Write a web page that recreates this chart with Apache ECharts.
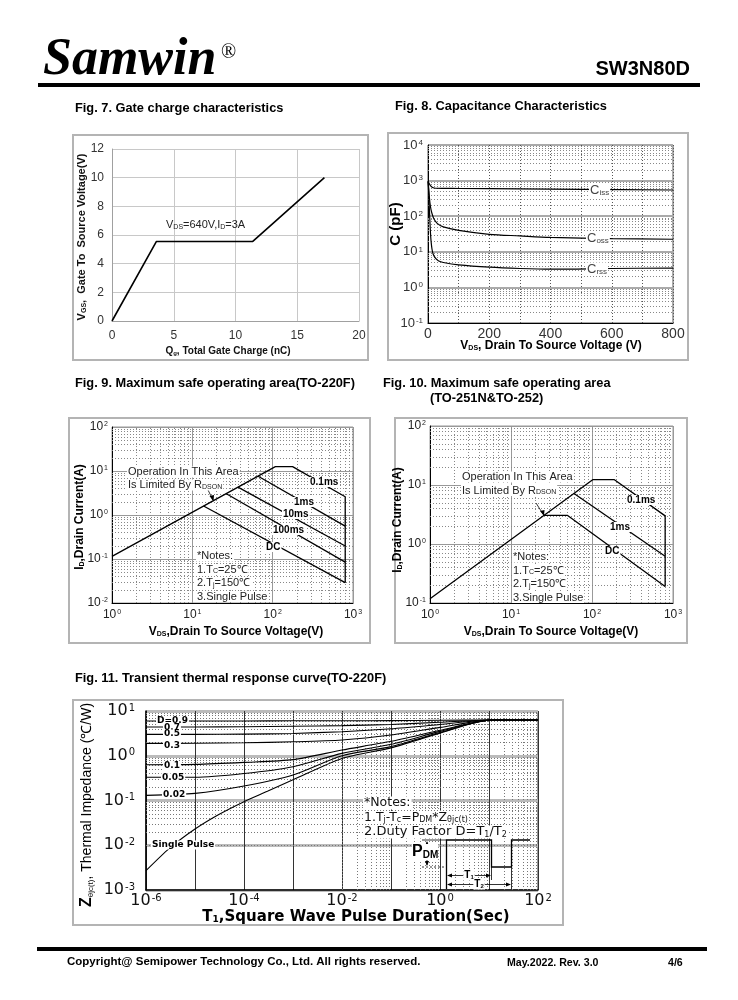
<!DOCTYPE html>
<html><head><meta charset="utf-8">
<script src="https://cdn.jsdelivr.net/npm/echarts@6/dist/echarts.min.js"></script>
<style>html,body{margin:0;padding:0;background:#fff}#c{width:738px;height:1000px}</style>
</head><body><div id="c"></div>
<script>
// ---------------- DATA ----------------
// Fig 7 gate charge
var fig7Qg = [0, 3.6, 11.4, 17.2];
var fig7Vgs = [0, 5.55, 5.55, 10];
// Fig 8 capacitance
var cissV = [0, 3, 8, 15, 25, 100, 300, 500, 800];
var cissC = [950, 850, 720, 640, 610, 600, 585, 570, 545];
var cossV = [0.5, 3, 6, 10, 15, 20, 30, 50, 100, 200, 300, 400, 600, 800];
var cossC = [950, 500, 250, 150, 105, 82, 63, 50, 40, 31, 28, 25.5, 23.5, 22.5];
var crssV = [0.5, 2, 4, 6, 8, 10, 13, 17, 25, 35, 50, 100, 200, 300, 400, 600, 800];
var crssC = [950, 500, 200, 80, 35, 20, 12, 8.5, 6.5, 5.5, 5, 4.3, 3.7, 3.4, 3.25, 3.4, 3.5];
// Fig 9 SOA TO-220F  [Vds, Id]
var soa9Outline = [[1, 0.115], [108, 12.6], [177, 12.6], [800, 2.6], [800, 0.029]];
var soa9ms1 = [[66, 7.6], [800, 0.56]];
var soa9ms10 = [[37, 4.3], [800, 0.197]];
var soa9ms100 = [[26.5, 3.05], [800, 0.085]];
var soa9dc = [[13.8, 1.6], [800, 0.029]];
// Fig 10 SOA TO-251N/TO-252
var soa10Outline = [[1, 0.118], [102, 12.3], [189, 12.3], [800, 3.0], [800, 0.19]];
var soa10ms1 = [[60, 7.2], [800, 0.62]];
var soa10dc = [[25.5, 3.05], [50, 3.05], [800, 0.19]];
// Fig 11 transient thermal
var zthT = [1e-6, 1e-5, 1e-4, 1e-3, 1e-2, 1e-1, 1, 10, 100];
var zthD09 = [6.0, 6.0, 6.0, 6.05, 6.05, 6.1, 6.2, 6.3, 6.35];
var zthD07 = [4.4, 4.4, 4.45, 4.55, 4.7, 5.0, 5.6, 6.3, 6.35];
var zthD05 = [3.0, 3.0, 3.05, 3.15, 3.45, 4.0, 5.0, 6.3, 6.35];
var zthD03 = [1.89, 1.9, 1.95, 2.05, 2.25, 2.9, 4.3, 6.25, 6.35];
var zthD01 = [0.63, 0.64, 0.71, 0.82, 1.34, 2.1, 3.7, 6.2, 6.35];
var zthD005 = [0.33, 0.33, 0.40, 0.57, 1.13, 1.8, 3.5, 6.2, 6.35];
var zthD002 = [0.13, 0.144, 0.21, 0.37, 1.0, 1.6, 3.3, 6.2, 6.35];
var spT = [1e-6, 3e-6, 1e-5, 3e-5, 1e-4, 3e-4, 1e-3, 1e-2, 1e-1, 1, 10, 100];
var spZ = [0.0027, 0.0085, 0.023, 0.048, 0.094, 0.16, 0.29, 0.87, 1.5, 3.2, 6.2, 6.35];
var zthLabels = ['D=0.9', '0.7', '0.5', '0.3', '0.1', '0.05', '0.02', 'Single Pulse'];

// ---------------- helpers ----------------
function zip(a, b) { return a.map(function (v, i) { return [v, b[i]]; }); }
function fontAvail(f) {
  var c = document.createElement('canvas').getContext('2d');
  var s = 'abcdefghijklmnopqrstuvwxyzABCDEFG';
  c.font = '20px monospace'; var a = c.measureText(s).width;
  c.font = "20px '" + f + "', monospace"; var b = c.measureText(s).width;
  return Math.abs(a - b) > 0.5;
}
var SANS = "'Liberation Sans', Arial, sans-serif";
var HAS_NARROW = fontAvail('Liberation Sans Narrow');
var NARROW = HAS_NARROW ? "'Liberation Sans Narrow', 'Liberation Sans', sans-serif" : SANS;
var DJ = "'DejaVu Sans', sans-serif";
var SERIF = "'Liberation Serif', 'Times New Roman', serif";

function powFmt(hideOdd) {
  return function (v) {
    var e = Math.round(Math.log10(v));
    if (hideOdd && e % 2 !== 0) return '';
    return '10{s|' + e + '}';
  };
}
function richFor(fs, ff, fw, fill) {
  return {
    s: { fontSize: Math.max(6, Math.round(fs * 0.6)), fontFamily: ff, fontWeight: fw || 'normal', fill: fill, color: fill, verticalAlign: 'bottom' },
    u: { fontSize: Math.max(6, Math.round(fs * 0.6)), fontFamily: ff, fontWeight: fw || 'normal', fill: fill, color: fill, verticalAlign: 'top' },
    z: { fontSize: Math.round(fs * 1.15), fontFamily: SANS, fontWeight: 'bold', fill: fill, color: fill }
  };
}
function txt(x, y, text, o) {
  o = o || {};
  var fs = o.fs || 11, ff = o.ff || SANS, fw = o.fw || 'normal', fill = o.fill || '#111';
  var st = {
    text: text, fontFamily: ff, fontSize: fs, fontWeight: fw, fontStyle: o.fst || 'normal',
    fill: fill, align: o.align || 'left', verticalAlign: o.va || 'middle',
    rich: o.rich || richFor(fs, ff, fw, fill)
  };
  if (o.bg) { st.backgroundColor = o.bg; st.padding = o.pad || [0, 1]; }
  return { type: 'text', x: x, y: y, rotation: o.rot || 0, z: o.z || 60, silent: true, style: st };
}
function frame(x, y, w, h) {
  return { type: 'rect', z: 0, silent: true, shape: { x: x, y: y, width: w, height: h }, style: { fill: null, stroke: '#b4b4b4', lineWidth: 2 } };
}
function seg(pts, w, dash) {
  return { type: 'polyline', z: 55, silent: true, shape: { points: pts }, style: { stroke: '#000', lineWidth: w || 1, fill: null, lineDash: dash || null } };
}
function tri(pts) {
  return { type: 'polygon', z: 55, silent: true, shape: { points: pts }, style: { fill: '#000' } };
}
function minorVals(lo, hi) { // lo,hi exponents
  var out = [];
  for (var e = lo; e < hi; e++) for (var k = 2; k <= 9; k++) out.push(k * Math.pow(10, e));
  return out;
}
function gridDeco(gi, xs, ys, color) {
  var d = [];
  xs.forEach(function (v) { d.push({ xAxis: v }); });
  ys.forEach(function (v) { d.push({ yAxis: v }); });
  return {
    type: 'line', xAxisIndex: gi, yAxisIndex: gi, data: [], z: 1, silent: true,
    markLine: { silent: true, symbol: ['none', 'none'], label: { show: false }, animation: false,
      lineStyle: { color: color || '#777', width: 1, type: [1, 2] }, data: d }
  };
}
function line(gi, data, w, smooth) {
  return { type: 'line', xAxisIndex: gi, yAxisIndex: gi, data: data, symbol: 'none', z: 5, silent: true,
    smooth: smooth || false, lineStyle: { color: '#000', width: w || 1.3 } };
}

// ---------------- axes ----------------
var labRich = function (fs, ff, c) { return { s: { fontSize: Math.round(fs * 0.62), fontFamily: ff, color: c, verticalAlign: 'top', padding: [0, 0, 0, 1] } }; };

var xAxes = [
  { gridIndex: 0, type: 'value', min: 0, max: 20, interval: 5,
    axisLine: { lineStyle: { color: '#a0a0a0' } }, axisTick: { show: false },
    axisLabel: { color: '#333', fontSize: 12, fontFamily: SANS, margin: 9 },
    splitLine: { lineStyle: { color: '#c8c8c8' } } },
  { gridIndex: 1, type: 'value', min: 0, max: 800, interval: 100,
    axisLine: { lineStyle: { color: '#000' } }, axisTick: { show: false },
    axisLabel: { color: '#333', fontSize: 14, fontFamily: SANS, margin: 4, formatter: function (v) { return v % 200 === 0 ? String(v) : ''; } },
    splitLine: { lineStyle: { color: '#555', type: [1, 2] } } },
  { gridIndex: 2, type: 'log', logBase: 10, min: 1, max: 1000,
    axisLine: { lineStyle: { color: '#000' } }, axisTick: { show: false },
    axisLabel: { color: '#222', fontSize: 12, fontFamily: SANS, margin: 6, formatter: powFmt(false), rich: labRich(12, SANS, '#222') },
    splitLine: { lineStyle: { color: '#999', width: 1 } } },
  { gridIndex: 3, type: 'log', logBase: 10, min: 1, max: 1000,
    axisLine: { lineStyle: { color: '#000' } }, axisTick: { show: false },
    axisLabel: { color: '#222', fontSize: 12, fontFamily: SANS, margin: 6, formatter: powFmt(false), rich: labRich(12, SANS, '#222') },
    splitLine: { lineStyle: { color: '#999', width: 1 } } },
  { gridIndex: 4, type: 'log', logBase: 10, min: 1e-6, max: 100, splitNumber: 8,
    axisLine: { lineStyle: { color: '#000', width: 1.5 } }, axisTick: { show: false },
    axisLabel: { color: '#111', fontSize: 16, fontFamily: DJ, margin: 3, formatter: powFmt(true), rich: labRich(16, DJ, '#111') },
    splitLine: { lineStyle: { color: '#333', width: 1 } } }
];
var yAxes = [
  { gridIndex: 0, type: 'value', min: 0, max: 12, interval: 2,
    axisLine: { show: true, lineStyle: { color: '#a0a0a0' } }, axisTick: { show: false },
    axisLabel: { color: '#333', fontSize: 12, fontFamily: SANS, margin: 8 },
    splitLine: { lineStyle: { color: '#c8c8c8' } } },
  { gridIndex: 1, type: 'log', logBase: 10, min: 0.1, max: 10000,
    axisLine: { show: true, lineStyle: { color: '#000' } }, axisTick: { show: false },
    axisLabel: { color: '#333', fontSize: 13, fontFamily: SANS, margin: 5, formatter: powFmt(false), rich: labRich(13, SANS, '#333') },
    splitLine: { lineStyle: { color: '#aaa', width: 2 } } },
  { gridIndex: 2, type: 'log', logBase: 10, min: 0.01, max: 100,
    axisLine: { show: true, lineStyle: { color: '#000' } }, axisTick: { show: false },
    axisLabel: { color: '#222', fontSize: 12, fontFamily: SANS, margin: 4, formatter: powFmt(false), rich: labRich(12, SANS, '#222') },
    splitLine: { lineStyle: { color: '#999', width: 1 } } },
  { gridIndex: 3, type: 'log', logBase: 10, min: 0.1, max: 100,
    axisLine: { show: true, lineStyle: { color: '#000' } }, axisTick: { show: false },
    axisLabel: { color: '#222', fontSize: 12, fontFamily: SANS, margin: 4, formatter: powFmt(false), rich: labRich(12, SANS, '#222') },
    splitLine: { lineStyle: { color: '#999', width: 1 } } },
  { gridIndex: 4, type: 'log', logBase: 10, min: 0.001, max: 10,
    axisLine: { show: true, lineStyle: { color: '#000', width: 1.5 } }, axisTick: { show: false },
    axisLabel: { color: '#111', fontSize: 16, fontFamily: DJ, margin: 11, formatter: powFmt(false), rich: labRich(16, DJ, '#111') },
    splitLine: { lineStyle: { color: '#bbb', width: 3 } } }
];
var grids = [
  { left: 112, top: 149, width: 247, height: 172 },
  { left: 428, top: 145, width: 245, height: 178, show: true, borderColor: '#555', borderWidth: 1 },
  { left: 112, top: 427, width: 241, height: 176, show: true, borderColor: '#999', borderWidth: 1 },
  { left: 430, top: 426, width: 243, height: 177, show: true, borderColor: '#999', borderWidth: 1 },
  { left: 146, top: 711, width: 392, height: 179, show: true, borderColor: '#333', borderWidth: 1 }
];

// ---------------- series ----------------
var series = [
  gridDeco(1, [], minorVals(-1, 4), '#888'),
  gridDeco(2, minorVals(0, 3), minorVals(-2, 2), '#888'),
  gridDeco(3, minorVals(0, 3), minorVals(-1, 2), '#888'),
  gridDeco(4, minorVals(-6, 2), minorVals(-3, 1), '#777'),
  line(0, zip(fig7Qg, fig7Vgs), 1.6),
  line(1, zip(cissV, cissC), 1.2, 0.3),
  line(1, zip(cossV, cossC), 1.2, 0.3),
  line(1, zip(crssV, crssC), 1.2, 0.3),
  line(2, soa9Outline), line(2, soa9ms1), line(2, soa9ms10), line(2, soa9ms100), line(2, soa9dc),
  line(3, soa10Outline), line(3, soa10ms1), line(3, soa10dc)
];
[zthD09, zthD07, zthD05, zthD03, zthD01, zthD005, zthD002].forEach(function (arr) {
  series.push(line(4, zip(zthT, arr), 1.1, 0.25));
});
series.push(line(4, zip(spT, spZ), 1.1, 0.25));

// ---------------- graphics (frames, titles, annotations) ----------------
var TITLE = { ff: NARROW, fs: HAS_NARROW ? 14.5 : 12.8, fw: 'bold', fill: '#000' };
var g = [];
// header
g.push(txt(43, 61, 'Samwin', { ff: SERIF, fs: 52, fw: 'bold', fst: 'italic', fill: '#000' }));
g.push(txt(221, 53, '®', { ff: SERIF, fs: 20, fill: '#000' }));
g.push(txt(690, 69, 'SW3N80D', { ff: SANS, fs: 20, fw: 'bold', fill: '#000', align: 'right' }));
g.push({ type: 'rect', z: 10, silent: true, shape: { x: 38, y: 83, width: 662, height: 4 }, style: { fill: '#000' } });
// footer
g.push({ type: 'rect', z: 10, silent: true, shape: { x: 37, y: 947, width: 670, height: 4 }, style: { fill: '#000' } });
g.push(txt(67, 962, 'Copyright@ Semipower Technology Co., Ltd. All rights reserved.', { ff: NARROW, fs: HAS_NARROW ? 13.4 : 11.5, fw: 'bold', fill: '#000' }));
g.push(txt(507, 963, 'May.2022. Rev. 3.0', { ff: NARROW, fs: HAS_NARROW ? 12.3 : 10.6, fw: 'bold', fill: '#000' }));
g.push(txt(668, 963, '4/6', { ff: NARROW, fs: HAS_NARROW ? 12.3 : 10.6, fw: 'bold', fill: '#000' }));
// titles
g.push(txt(75, 108, 'Fig. 7. Gate charge characteristics', TITLE));
g.push(txt(395, 106, 'Fig. 8. Capacitance Characteristics', TITLE));
g.push(txt(75, 383, 'Fig. 9. Maximum safe operating area(TO-220F)', TITLE));
g.push(txt(383, 383, 'Fig. 10. Maximum safe operating area', TITLE));
g.push(txt(430, 398, '(TO-251N&TO-252)', TITLE));
g.push(txt(75, 678, 'Fig. 11. Transient thermal response curve(TO-220F)', TITLE));
// frames
g.push(frame(73, 135, 295, 225));
g.push(frame(388, 133, 300, 227));
g.push(frame(69, 418, 301, 225));
g.push(frame(395, 418, 292, 225));
g.push(frame(73, 700, 490, 225));

// Fig 7 texts
g.push(txt(82, 237, 'V{s|GS},  Gate To  Source Voltage(V)', { fs: 11, fw: 'bold', align: 'center', rot: Math.PI / 2, fill: '#111' }));
g.push(txt(228, 351, 'Q{s|g}, Total Gate Charge (nC)', { fs: 10, fw: 'bold', align: 'center', fill: '#111' }));
g.push(txt(166, 225, 'V{s|DS}=640V,I{s|D}=3A', { fs: 11, fill: '#222' }));
// Fig 8 texts
g.push(txt(396, 224, 'C (pF)', { fs: 15, fw: 'bold', align: 'center', rot: Math.PI / 2, fill: '#000' }));
g.push(txt(551, 346, 'V{s|DS}, Drain To Source Voltage (V)', { fs: 12, fw: 'bold', align: 'center', fill: '#000' }));
g.push(txt(589, 190, 'C{s|iss}', { fs: 13, fill: '#444', bg: '#fff' }));
g.push(txt(586, 238, 'C{s|oss}', { fs: 13, fill: '#444', bg: '#fff' }));
g.push(txt(586, 269, 'C{s|rss}', { fs: 13, fill: '#444', bg: '#fff' }));
// Fig 9 texts
g.push(txt(80, 517, 'I{s|D},Drain Current(A)', { fs: 12, fw: 'bold', align: 'center', rot: Math.PI / 2, fill: '#000' }));
g.push(txt(236, 632, 'V{s|DS},Drain To Source Voltage(V)', { fs: 12, fw: 'bold', align: 'center', fill: '#000' }));
g.push(txt(127, 472, 'Operation In This Area', { fs: 11, fill: '#222', bg: '#fff' }));
g.push(txt(127, 485, 'Is Limited By R{s|DSON}', { fs: 11, fill: '#222', bg: '#fff' }));
g.push(seg([[204, 482], [213, 500]], 0.8));
g.push(tri([[213.5, 501.5], [209.5, 496], [214, 495]]));
g.push(txt(309, 482, '0.1ms', { fs: 10, fw: 'bold', fill: '#000', bg: '#fff' }));
g.push(txt(293, 502, '1ms', { fs: 10, fw: 'bold', fill: '#000', bg: '#fff' }));
g.push(txt(282, 514, '10ms', { fs: 10, fw: 'bold', fill: '#000', bg: '#fff' }));
g.push(txt(272, 530, '100ms', { fs: 10, fw: 'bold', fill: '#000', bg: '#fff' }));
g.push(txt(265, 547, 'DC', { fs: 10, fw: 'bold', fill: '#000', bg: '#fff' }));
g.push(txt(196, 556, '*Notes:', { fs: 11, fill: '#222', bg: '#fff' }));
g.push(txt(196, 569.5, '1.T{s|C}=25℃', { fs: 11, fill: '#222', bg: '#fff' }));
g.push(txt(196, 583, '2.T{s|j}=150℃', { fs: 11, fill: '#222', bg: '#fff' }));
g.push(txt(196, 596.5, '3.Single Pulse', { fs: 11, fill: '#222', bg: '#fff' }));
// Fig 10 texts
g.push(txt(398, 520, 'I{s|D},Drain Current(A)', { fs: 12, fw: 'bold', align: 'center', rot: Math.PI / 2, fill: '#000' }));
g.push(txt(551, 632, 'V{s|DS},Drain To Source Voltage(V)', { fs: 12, fw: 'bold', align: 'center', fill: '#000' }));
g.push(txt(461, 477, 'Operation In This Area', { fs: 11, fill: '#222', bg: '#fff' }));
g.push(txt(461, 490.5, 'Is Limited By R{s|DSON}', { fs: 11, fill: '#222', bg: '#fff' }));
g.push(seg([[536, 503], [543, 514]], 0.8));
g.push(tri([[544, 516], [540, 511], [544.5, 510]]));
g.push(txt(626, 500, '0.1ms', { fs: 10, fw: 'bold', fill: '#000', bg: '#fff' }));
g.push(txt(609, 527, '1ms', { fs: 10, fw: 'bold', fill: '#000', bg: '#fff' }));
g.push(txt(604, 551, 'DC', { fs: 10, fw: 'bold', fill: '#000', bg: '#fff' }));
g.push(txt(512, 557, '*Notes:', { fs: 11, fill: '#222', bg: '#fff' }));
g.push(txt(512, 570.5, '1.T{s|C}=25℃', { fs: 11, fill: '#222', bg: '#fff' }));
g.push(txt(512, 584, '2.T{s|j}=150℃', { fs: 11, fill: '#222', bg: '#fff' }));
g.push(txt(512, 597.5, '3.Single Pulse', { fs: 11, fill: '#222', bg: '#fff' }));
// Fig 11 texts
g.push(txt(87, 805, '{z|Z}{s|θjc(t)}, Thermal Impedance (℃/W)', { ff: NARROW, fs: HAS_NARROW ? 16 : 14, align: 'center', rot: Math.PI / 2, fill: '#000' }));
g.push(txt(356, 917, 'T{s|1},Square Wave Pulse Duration(Sec)', { ff: DJ, fs: 15, fw: 'bold', align: 'center', fill: '#000' }));
var zthLabPos = [[156, 720.5], [163, 727.5], [163, 734], [163, 746], [163, 765.5], [161, 778], [162, 794.5], [151, 845]];
zthLabels.forEach(function (t, i) {
  g.push(txt(zthLabPos[i][0], zthLabPos[i][1], t, { ff: DJ, fs: 9, fw: 'bold', fill: '#000', bg: '#fff', pad: [0, 1] }));
});
g.push(txt(363, 803, '*Notes:', { ff: DJ, fs: 12.5, fill: '#111', bg: '#fff' }));
g.push(txt(363, 817.5, '1.T{s|j}-T{s|c}=P{s|DM}*Z{s|θjc(t)}', { ff: DJ, fs: 12.5, fill: '#111', bg: '#fff' }));
g.push(txt(363, 832, '2.Duty Factor D=T{s|1}/T{s|2}', { ff: DJ, fs: 13, fill: '#111', bg: '#fff' }));
// pulse diagram
g.push(seg([[446.5, 889], [446.5, 840], [491.5, 840], [491.5, 867], [511.5, 867], [511.5, 840], [530, 840]], 1.3));
g.push(seg([[422, 840], [446.5, 840]], 0.8));
g.push(seg([[422, 867], [446.5, 867]], 0.8, [2, 2]));
g.push(seg([[427, 842], [427, 865]], 0.8));
g.push(tri([[427, 841], [425, 846], [429, 846]]));
g.push(tri([[427, 866], [425, 861], [429, 861]]));
g.push(txt(412, 852, 'P{s|DM}', { ff: SANS, fs: 16, fw: 'bold', fill: '#000', bg: '#fff', pad: [0, 0] }));
g.push(seg([[491.5, 867], [491.5, 880]], 0.8));
g.push(seg([[511.5, 867], [511.5, 889]], 0.8));
g.push(seg([[448, 875.5], [490, 875.5]], 0.8));
g.push(tri([[447, 875.5], [452, 873.5], [452, 877.5]]));
g.push(tri([[491, 875.5], [486, 873.5], [486, 877.5]]));
g.push(txt(469, 875.5, 'T{s|1}', { ff: SANS, fs: 10, fw: 'bold', fill: '#000', bg: '#fff', align: 'center' }));
g.push(seg([[448, 884.5], [510, 884.5]], 0.8));
g.push(tri([[447, 884.5], [452, 882.5], [452, 886.5]]));
g.push(tri([[511, 884.5], [506, 882.5], [506, 886.5]]));
g.push(txt(479, 884.5, 'T{s|2}', { ff: SANS, fs: 10, fw: 'bold', fill: '#000', bg: '#fff', align: 'center' }));

var chart = echarts.init(document.getElementById('c'), null, { renderer: 'canvas', width: 738, height: 1000 });
chart.setOption({
  animation: false,
  backgroundColor: '#fff',
  grid: grids,
  xAxis: xAxes,
  yAxis: yAxes,
  series: series,
  graphic: { elements: g }
});
</script></body></html>
